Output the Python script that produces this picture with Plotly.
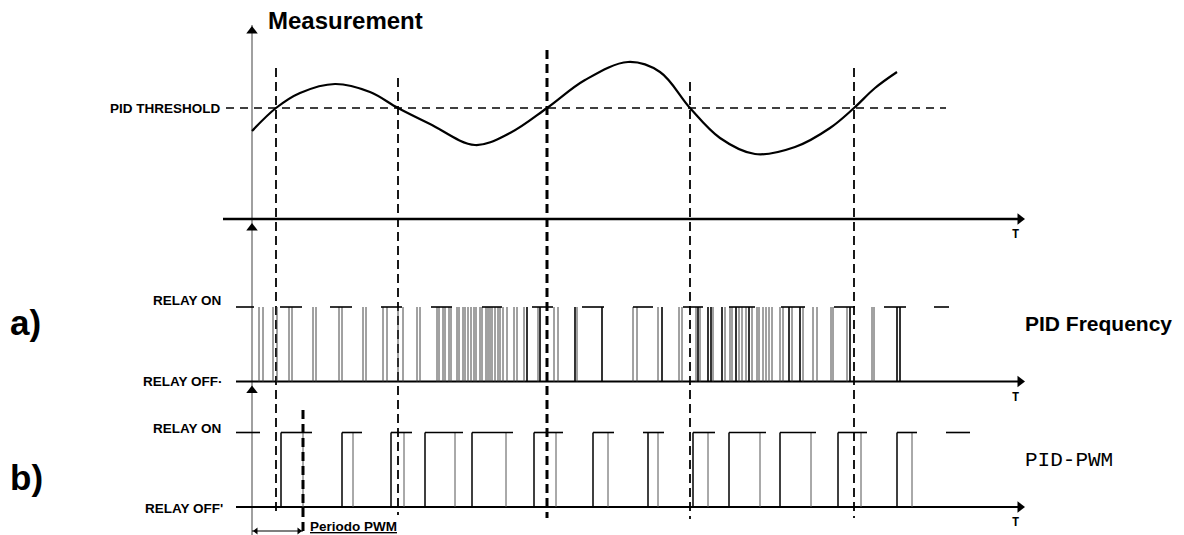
import plotly.graph_objects as go

# ---- values (time runs left to right, levels run top to bottom) ----
t_origin = 252                       # vertical axis position
t_axis_start = [223, 236, 236]       # left end of the three time axes
t_axis_end = 1025                    # arrow tip of the time axes
axis_levels = [219, 381.5, 507]      # measurement / a) / b) time axes

threshold = 108
crossing_t = [276, 398, 547, 690, 854]
crossing_top = [68, 78, 50, 82, 68]
crossing_bottom = [515, 515, 518, 519, 518]

meas_t = [252, 276, 300, 335, 370, 398, 430, 475, 510, 547, 585, 628, 660, 690,
          720, 755, 795, 830, 854, 875, 897]
meas_v = [131, 108, 93, 84, 92, 108, 124, 145, 133, 108, 80, 62, 72, 108,
          138, 154, 147, 128, 108, 88, 72]

# a) PID frequency relay
a_on, a_off = 307, 381.5
a_caps_start = [236, 280, 330, 381, 431, 482, 532, 582, 633, 683, 729, 781, 834, 884, 934]
a_caps_end = [254, 302, 352, 402, 452, 502, 553, 604, 653, 703, 755, 805, 855, 906, 949]
a_edges_dark = [527, 540, 575, 602, 662, 698, 708, 711, 722, 736, 749, 789, 800, 850, 897, 900]
a_edges_light = [259, 263, 273, 277, 289, 292, 313, 316, 339, 342, 363, 366, 383, 387, 398,
                 403, 417, 420, 437, 439, 443, 445, 449, 451, 457, 459, 463, 465, 468, 471,
                 474, 476, 480, 482, 486, 488, 490, 492, 495, 498, 500, 503, 507, 514, 517,
                 524, 538, 554, 558, 577, 633, 637, 658, 679, 682, 696, 700, 713, 725, 730,
                 732, 739, 742, 746, 752, 757, 759, 763, 766, 769, 772, 780, 783, 792, 803,
                 813, 817, 831, 833, 847, 872, 874]

# b) PID-PWM relay
b_on, b_off = 432.5, 507
b_caps_start = [236, 281, 342, 391, 425, 472, 534, 593, 643, 693, 729, 780, 838, 897, 946]
b_caps_end = [260, 312, 362, 412, 463, 513, 563, 614, 664, 715, 766, 816, 867, 917, 970]
b_rise = [281, 342, 391, 425, 472, 534, 593, 648, 693, 729, 780, 838, 897]
b_fall = [303, 353, 404, 455, 506, 556, 608, 658, 708, 760, 811, 861, 912]

pwm_period = [252, 303]
pwm_mark_top, pwm_dim_level = 410, 531

fig = go.Figure()


def add_line(xs, ys, color="#000", width=1.5, dash=None, shape="linear"):
    fig.add_trace(go.Scatter(x=xs, y=ys, mode="lines", hoverinfo="skip",
                             line=dict(color=color, width=width, dash=dash, shape=shape)))


def hsegs(x0s, x1s, y):
    xs, ys = [], []
    for a, b in zip(x0s, x1s):
        xs += [a, b, None]
        ys += [y, y, None]
    return xs, ys


def vsegs(ts, y0, y1):
    xs, ys = [], []
    for t in ts:
        xs += [t, t, None]
        ys += [y0, y1, None]
    return xs, ys


# vertical axis
add_line([t_origin, t_origin], [25, 535], color="#808080", width=1.5)

# time axes
for x0, lvl, w in zip(t_axis_start, axis_levels, [2.5, 2, 2]):
    add_line([x0, t_axis_end - 4], [lvl, lvl], width=w)

# threshold and crossing markers
add_line([226, 946], [threshold, threshold], width=1.6, dash="8px,6px")
for t, y0, y1 in zip(crossing_t, crossing_top, crossing_bottom):
    add_line([t, t], [y0, y1], width=3 if t == 547 else 1.8, dash="9px,5px")

# measurement curve
add_line(meas_t, meas_v, width=2.2, shape="spline")

# a) pulses
xs, ys = vsegs(a_edges_light, a_on, a_off)
add_line(xs, ys, color="#444", width=1)
xs, ys = vsegs(a_edges_dark, a_on, a_off)
add_line(xs, ys, color="#000", width=1.6)
xs, ys = hsegs(a_caps_start, a_caps_end, a_on)
add_line(xs, ys, width=1.6)

# b) pulses
xs, ys = vsegs(b_fall, b_on, b_off)
add_line(xs, ys, color="#555", width=1)
xs, ys = vsegs(b_rise, b_on, b_off)
add_line(xs, ys, color="#000", width=1.5)
xs, ys = hsegs(b_caps_start, b_caps_end, b_on)
add_line(xs, ys, width=1.6)

# PWM period marker and dimension
add_line([pwm_period[1], pwm_period[1]], [pwm_mark_top, 535], width=3, dash="9px,5px")
add_line(pwm_period, [pwm_dim_level, pwm_dim_level], width=1.2)
fig.add_trace(go.Scatter(x=[pwm_period[0] + 4, pwm_period[1] - 4], y=[pwm_dim_level] * 2,
                         mode="markers", hoverinfo="skip",
                         marker=dict(symbol=["triangle-left", "triangle-right"], size=6, color="#000")))

# arrow heads
fig.add_trace(go.Scatter(x=[t_origin] * 3, y=[31, axis_levels[0] + 9, axis_levels[1] + 9],
                         mode="markers", hoverinfo="skip",
                         marker=dict(symbol="triangle-up", size=10, color="#000")))
fig.add_trace(go.Scatter(x=[t_axis_end - 5] * 3, y=axis_levels,
                         mode="markers", hoverinfo="skip",
                         marker=dict(symbol="triangle-right", size=10, color="#000")))

# text
SANS = "Liberation Sans, Arial, sans-serif"
MONO = "Liberation Mono, DejaVu Sans Mono, monospace"


def label(x, y, text, size, anchor="left", family=SANS, bold=True):
    fig.add_annotation(x=x, y=y, text=f"<b>{text}</b>" if bold else text, showarrow=False,
                       xanchor=anchor, yanchor="middle",
                       font=dict(family=family, size=size, color="#000"))


label(266, 20, "Measurement", 24)
label(223, threshold, "PID THRESHOLD", 13.5, "right")
label(223, 300, "RELAY ON", 13.5, "right")
label(225, 381, "RELAY OFF·", 13.5, "right")
label(223, 428, "RELAY ON", 13.5, "right")
label(225, 508, "RELAY OFF'", 13.5, "right")
label(8, 322, "a)", 35)
label(8, 477, "b)", 35)
label(1023, 323, "PID Frequency", 21)
label(1023, 460, "PID-PWM", 21, family=MONO, bold=False)
for lvl in axis_levels:
    label(1015, lvl + 16, "T", 12, "center", family=MONO)
label(308, 526, "<u>Periodo PWM</u>", 13.5)

# the page body has an 8px margin: shrink the figure and shift the ranges to compensate
fig.update_layout(
    width=1176, height=527,
    margin=dict(l=0, r=0, t=0, b=0),
    paper_bgcolor="white", plot_bgcolor="white",
    showlegend=False,
    xaxis=dict(range=[8, 1184], visible=False, fixedrange=True),
    yaxis=dict(range=[535, 8], visible=False, fixedrange=True),
)

fig.write_html("out.html")
